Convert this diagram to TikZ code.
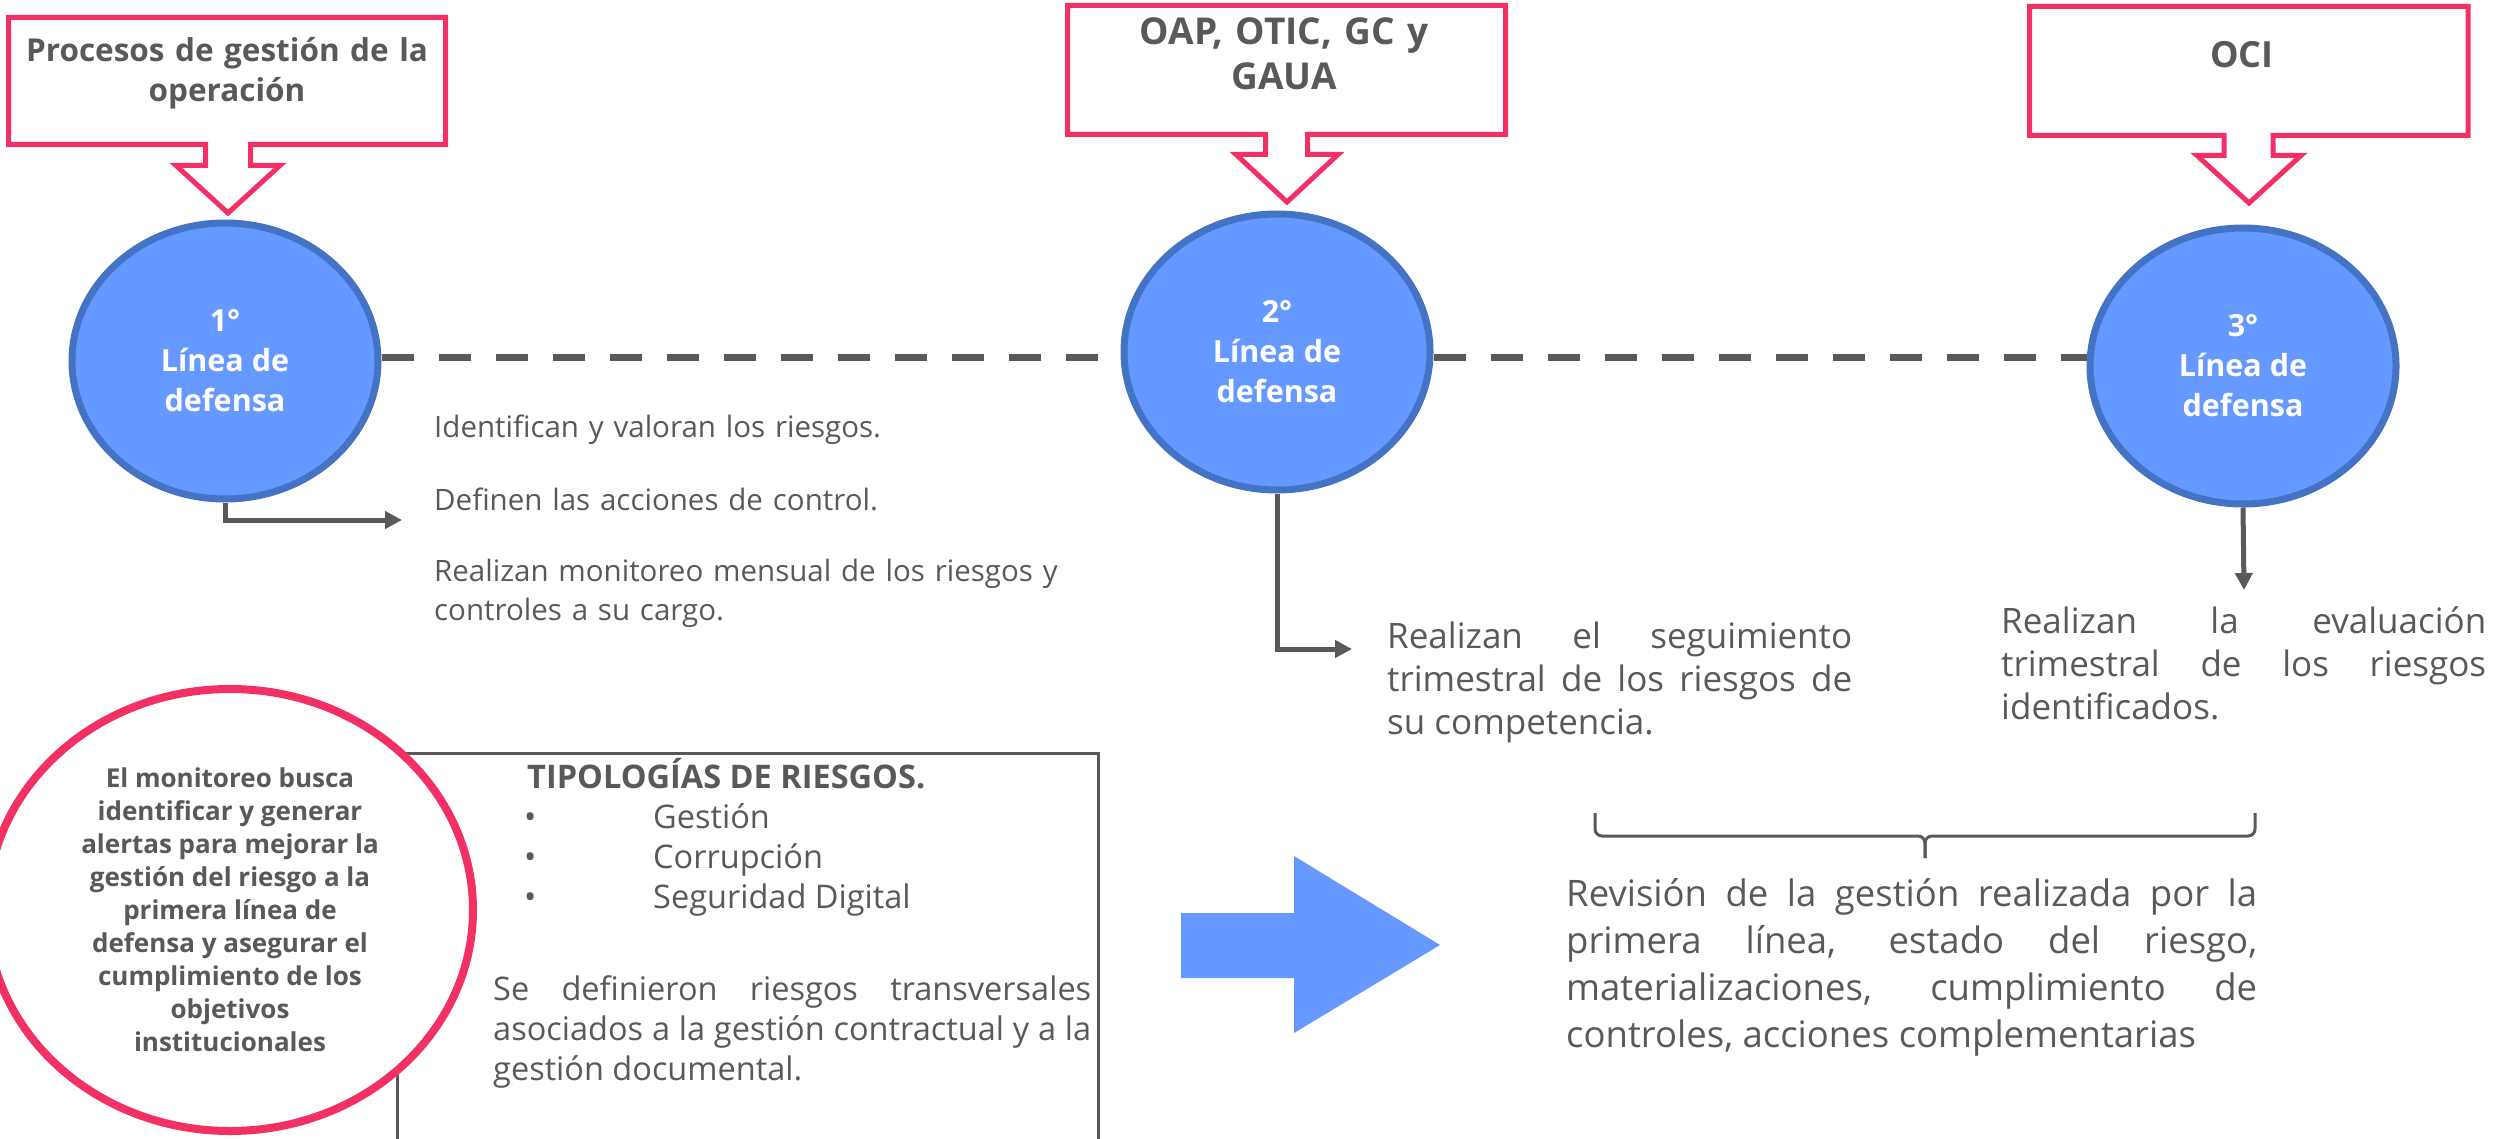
\documentclass[tikz,border=0pt]{standalone}
\usepackage{fontspec}
\setmainfont{Open Sans}
\usetikzlibrary{arrows.meta}
\usetikzlibrary{shapes.geometric}
\definecolor{rosa}{RGB}{242,48,100}
\definecolor{azul}{RGB}{102,153,255}
\definecolor{azulborde}{RGB}{68,114,196}
\definecolor{gris}{RGB}{89,89,89}
\tolerance=10000
\hbadness=10000
\tikzstyle{esquema}=[x=1pt, y=-1pt]
\tikzstyle{linea}=[ellipse, draw=azulborde, line width=7pt, fill=azul, minimum width=306pt, minimum height=276pt, inner sep=0pt, align=center, text=white, font=\bfseries\fontsize{30.5}{40}\selectfont]
\tikzstyle{globo}=[draw=rosa, line width=5pt, fill=white]
\tikzstyle{globotxt}=[anchor=base, inner sep=0pt, text width=430pt, align=center, text=gris, font=\bfseries\fontsize{31.5}{40}\selectfont]
\tikzstyle{enlace}=[draw=gris, line width=7pt, dash pattern=on 32pt off 25pt]
\tikzstyle{flecha}=[draw=gris, line width=5pt, -{Triangle[length=17pt,width=17pt]}]
\tikzstyle{txt}=[anchor=base west, inner sep=0pt, text=gris, align=justify]
\tikzstyle{alerta}=[ellipse, draw=rosa, line width=8pt, fill=white, minimum width=486pt, minimum height=442pt, inner sep=0pt, align=center, text=gris, font=\bfseries\fontsize{26}{33}\selectfont]
\tikzstyle{marco}=[draw=gris, line width=3pt]
\tikzstyle{llave}=[draw=gris, line width=3pt, rounded corners=7pt]
\tikzstyle{caja}=[font=\fontsize{32.5}{40}\selectfont]

\begin{document}
\begin{tikzpicture}[esquema]
	\useasboundingbox (0,0) rectangle (2496,1139);
	%% lineas de defensa
	\node[linea] (l1) at (225,361) {1°\\Línea de\\defensa};
	\node[linea] (l2) at (1277,352) {2°\\Línea de\\defensa};
	\node[linea] (l3) at (2243,366) {3°\\Línea de\\defensa};
	\draw[enlace] (l1.east |- 0,357) -- (l2.west |- 0,357);
	\draw[enlace] (l2.east |- 0,357) -- (l3.west |- 0,357);
	%%
	\draw[globo] (8.5,17.5) -- (445.5,17.5) -- (445.5,144.5) -- (250.5,144.5) -- (250.5,165.5) -- (280,165.5) -- (228,213) -- (176,165.5) -- (205.5,165.5) -- (205.5,144.5) -- (8.5,144.5) -- cycle;
	\node[globotxt] (g1) at (227,62) {Procesos de gestión de la\\operación};
	%%
	\draw[globo] (1067.5,5.5) -- (1505.5,5.5) -- (1505.5,134.5) -- (1307.5,134.5) -- (1307.5,154.5) -- (1338,154.5) -- (1287,202) -- (1236,154.5) -- (1265.5,154.5) -- (1265.5,134.5) -- (1067.5,134.5) -- cycle;
	\node[globotxt, font=\bfseries\fontsize{37}{45}\selectfont] (g2) at (1284,45) {OAP, OTIC, GC y\\GAUA};
	%%
	\draw[globo] (2029.5,6.5) -- (2468,6.5) -- (2468,135.5) -- (2273,135.5) -- (2273,155.5) -- (2301,155.5) -- (2249,203) -- (2197,155.5) -- (2224,155.5) -- (2224,135.5) -- (2029.5,135.5) -- cycle;
	\node[globotxt, font=\bfseries\fontsize{36}{45}\selectfont] (g3) at (2242,68) {OCI};
	%%%%%%
	\coordinate (p1) at (402,520);
	\coordinate (p2) at (1352,649);
	\coordinate (p3) at (2244,590);
	\draw[flecha] (l1.south) |- (p1);
	\draw[flecha] (l2.south) |- (p2);
	\draw[flecha] (l3.south) -- (p3);
	%%
	\node[txt, text width=640pt, align=left, font=\fontsize{29.5}{39}\selectfont] (t1) at (434,437) {Identifican y valoran los riesgos.\\[34pt]Definen las acciones de control.\\[32pt]Realizan monitoreo mensual de los riesgos y\\controles a su cargo.};
	\node[txt, text width=465pt, font=\fontsize{35}{43}\selectfont] (t2) at (1387,648) {Realizan el seguimiento\linebreak trimestral de los riesgos de\linebreak su competencia.};
	\node[txt, text width=485pt, font=\fontsize{35}{43}\selectfont] (t3) at (2001,633) {Realizan la evaluación\linebreak trimestral de los riesgos\linebreak identificados.};
	%%%%%%
	\draw[marco] (397,1150) -- (397,753) -- (1098,753) -- (1098,1150);
	\node[alerta] (m) at (230,910) {El monitoreo busca\\identificar y generar\\alertas para mejorar la\\gestión del riesgo a la\\primera línea de\\defensa y asegurar el\\cumplimiento de los\\objetivos\\institucionales};
	\node[txt, caja, font=\bfseries\fontsize{32.5}{40}\selectfont] (tip) at (527,788) {TIPOLOGÍAS DE RIESGOS.};
	\node[txt, caja] (b1) at (524,828) {•};
	\node[txt, caja] (b2) at (524,868) {•};
	\node[txt, caja] (b3) at (524,908) {•};
	\node[txt, caja] (r1) at (653,828) {Gestión};
	\node[txt, caja] (r2) at (653,868) {Corrupción};
	\node[txt, caja] (r3) at (653,908) {Seguridad Digital};
	\node[txt, caja, text width=598pt] (tr) at (493,1000) {Se definieron riesgos transversales\linebreak asociados a la gestión contractual y a la\linebreak gestión documental.};
	%%%%%%
	\fill[azul] (1181,913) -- (1294,913) -- (1294,856) -- (1440,945) -- (1294,1033) -- (1294,978) -- (1181,978) -- cycle;
	\draw[llave] (1595,813) -- (1595,836) -- (1925,836) -- (1925,858);
	\draw[llave] (2255,813) -- (2255,836) -- (1925,836) -- (1925,858);
	\node[txt, text width=691pt, font=\fontsize{36.5}{47}\selectfont] (rev) at (1566,906) {Revisión de la gestión realizada por la\linebreak primera línea, estado del riesgo,\linebreak materializaciones, cumplimiento de\linebreak controles, acciones complementarias};
\end{tikzpicture}
\end{document}
